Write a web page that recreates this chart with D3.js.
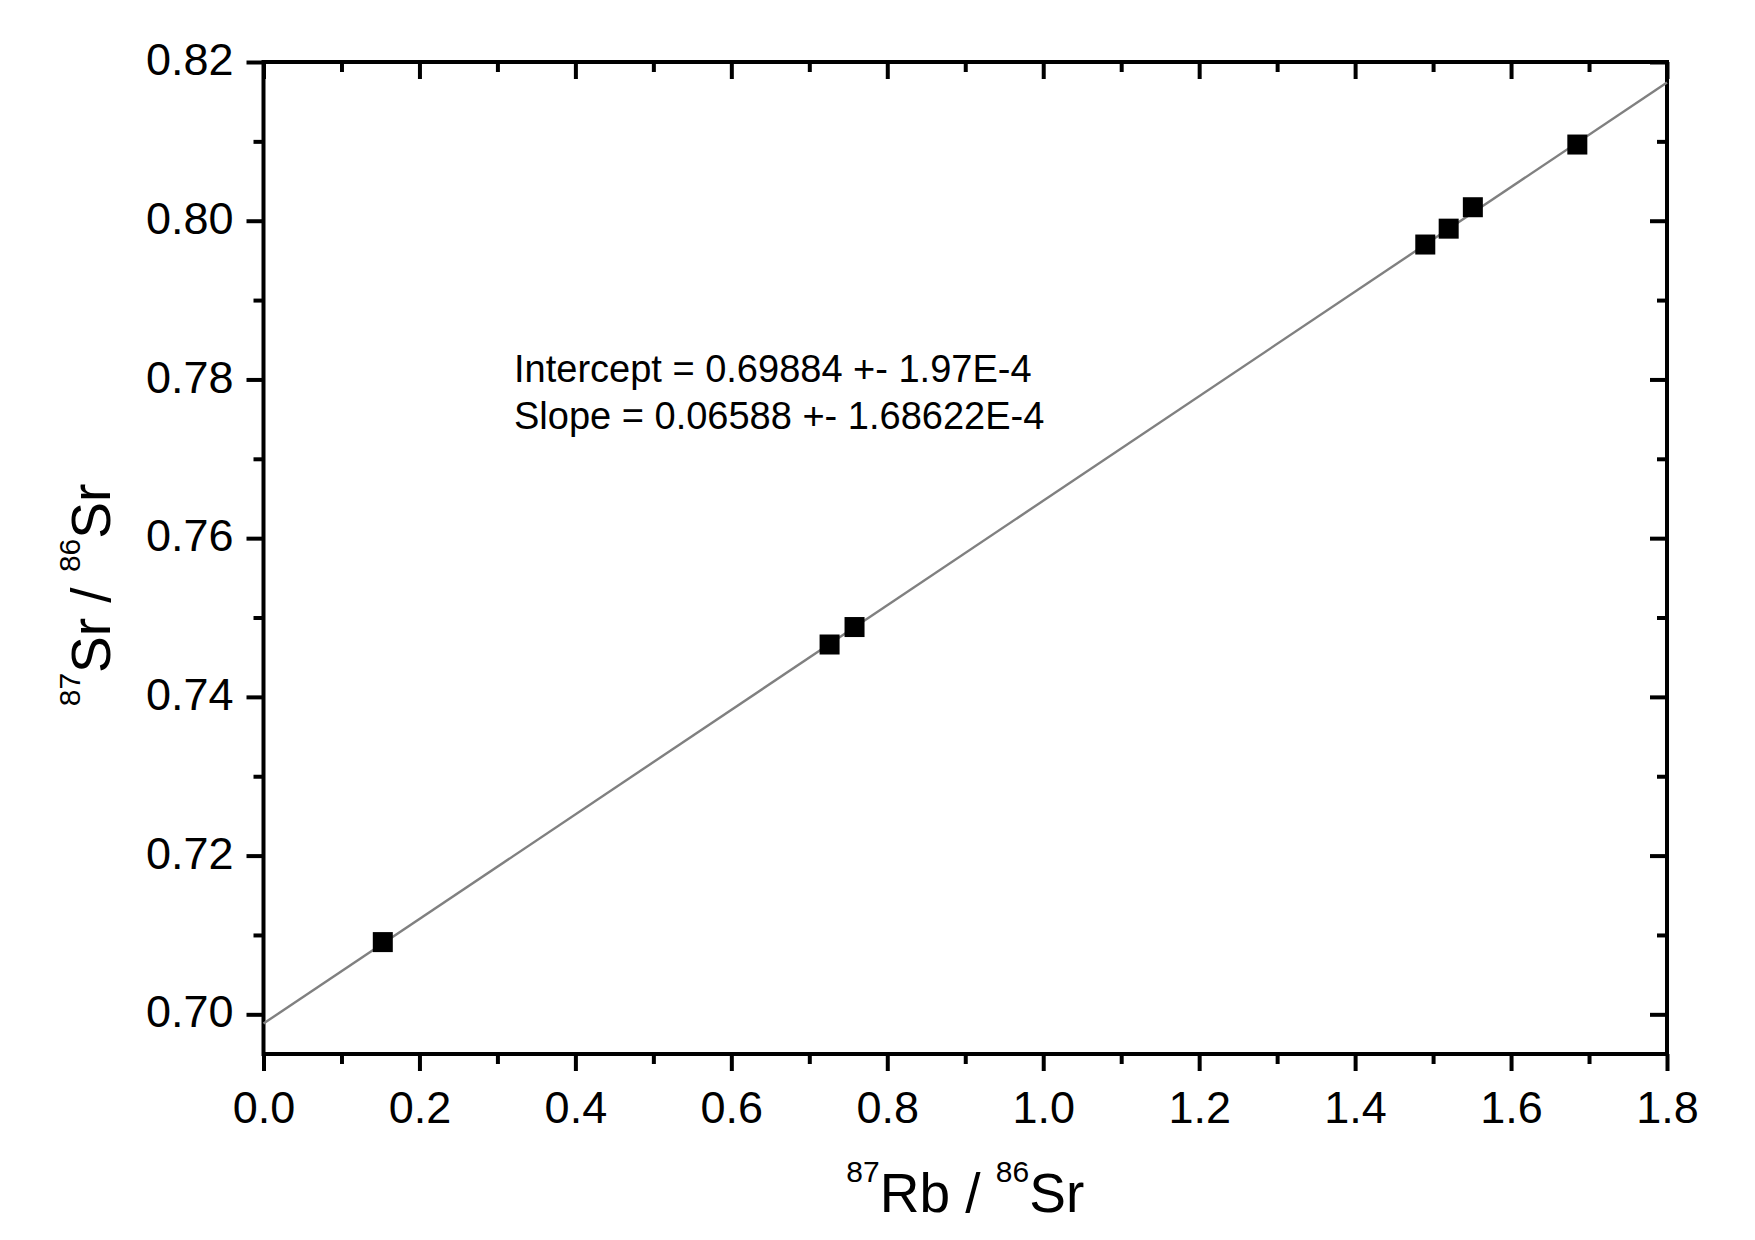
<!DOCTYPE html>
<html><head><meta charset="utf-8">
<script src="https://cdn.jsdelivr.net/npm/d3@7"></script>
<style>
html,body{margin:0;padding:0;background:#fff;}
text{font-family:"Liberation Sans",Arial,sans-serif;fill:#000;}
</style></head>
<body>
<svg id="chart" width="1755" height="1240"></svg>
<script>
// ---- data ----
const rbSr = [0.153, 0.726, 0.758, 1.490, 1.520, 1.551, 1.685];
const srSr = [0.7091, 0.7466, 0.7488, 0.7970, 0.7990, 0.8017, 0.8096];
const fitX = [0, 1.8];
const fitY = [0.69884, 0.81742];
const xMajor = [0, 0.2, 0.4, 0.6, 0.8, 1.0, 1.2, 1.4, 1.6, 1.8];
const xMinor = [0.1, 0.3, 0.5, 0.7, 0.9, 1.1, 1.3, 1.5, 1.7];
const xLabels = ["0.0","0.2","0.4","0.6","0.8","1.0","1.2","1.4","1.6","1.8"];
const yMajor = [0.70, 0.72, 0.74, 0.76, 0.78, 0.80, 0.82];
const yMinor = [0.71, 0.73, 0.75, 0.77, 0.79, 0.81];
const yLabels = ["0.70","0.72","0.74","0.76","0.78","0.80","0.82"];
const annotation = ["Intercept = 0.69884 +- 1.97E-4", "Slope = 0.06588 +- 1.68622E-4"];

// ---- layout ----
const L = 263.5, R = 1667, T = 62, B = 1054;
const svg = d3.select("#chart");
const x = d3.scaleLinear().domain([0, 1.8]).range([L, R]);
const y = d3.scaleLinear().domain([0.695, 0.82]).range([B, T]);

const MAJ = 17, MIN = 10, SW = 4;

function styleAxis(g){
  g.select(".domain").remove();
  g.selectAll(".tick line").attr("stroke","#000").attr("stroke-width",SW);
}

// bottom axis (outward)
const gB = svg.append("g").attr("transform",`translate(0,${B})`);
gB.call(d3.axisBottom(x).tickValues(xMajor).tickSize(MAJ).tickFormat((d,i)=>xLabels[i]).tickPadding(20));
styleAxis(gB);
gB.selectAll(".tick text").attr("font-size",45).attr("dy","0.71em");
const gBm = svg.append("g").attr("transform",`translate(0,${B})`);
gBm.call(d3.axisBottom(x).tickValues(xMinor).tickSize(MIN).tickFormat(""));
styleAxis(gBm);

// top axis (inward)
const gT = svg.append("g").attr("transform",`translate(0,${T})`);
gT.call(d3.axisBottom(x).tickValues(xMajor).tickSize(MAJ).tickFormat(""));
styleAxis(gT);
const gTm = svg.append("g").attr("transform",`translate(0,${T})`);
gTm.call(d3.axisBottom(x).tickValues(xMinor).tickSize(MIN).tickFormat(""));
styleAxis(gTm);

// left axis (outward)
const gL = svg.append("g").attr("transform",`translate(${L},0)`);
gL.call(d3.axisLeft(y).tickValues(yMajor).tickSize(MAJ).tickFormat((d,i)=>yLabels[i]).tickPadding(13));
styleAxis(gL);
gL.selectAll(".tick text").attr("font-size",45).attr("dy","0.28em");
const gLm = svg.append("g").attr("transform",`translate(${L},0)`);
gLm.call(d3.axisLeft(y).tickValues(yMinor).tickSize(MIN).tickFormat(""));
styleAxis(gLm);

// right axis (inward)
const gR = svg.append("g").attr("transform",`translate(${R},0)`);
gR.call(d3.axisLeft(y).tickValues(yMajor).tickSize(MAJ).tickFormat(""));
styleAxis(gR);
const gRm = svg.append("g").attr("transform",`translate(${R},0)`);
gRm.call(d3.axisLeft(y).tickValues(yMinor).tickSize(MIN).tickFormat(""));
styleAxis(gRm);

// frame
svg.append("rect").attr("x",L).attr("y",T).attr("width",R-L).attr("height",B-T)
  .attr("fill","none").attr("stroke","#000").attr("stroke-width",SW);

// fit line
svg.append("path")
  .datum(fitX.map((v,i)=>[v,fitY[i]]))
  .attr("d", d3.line().x(d=>x(d[0])).y(d=>y(d[1])))
  .attr("stroke","#808080").attr("stroke-width",2.4).attr("fill","none");

// points
const S = 20;
svg.append("g").selectAll("rect").data(rbSr.map((v,i)=>[v,srSr[i]])).join("rect")
  .attr("x",d=>x(d[0])-S/2).attr("y",d=>y(d[1])-S/2)
  .attr("width",S).attr("height",S).attr("fill","#000");

// annotation
svg.append("g").selectAll("text").data(annotation).join("text")
  .attr("x",514).attr("y",(d,i)=>381.5+i*47).attr("font-size",38).text(d=>d);

// x title
const xt = svg.append("text").attr("x",(L+R)/2).attr("y",1212).attr("text-anchor","middle").attr("font-size",55);
xt.append("tspan").attr("font-size",30).attr("dy",-30).text("87");
xt.append("tspan").attr("dy",30).text("Rb / ");
xt.append("tspan").attr("font-size",30).attr("dy",-30).text("86");
xt.append("tspan").attr("dy",30).text("Sr");

// y title
const yt = svg.append("text").attr("transform","translate(110,595) rotate(-90)").attr("text-anchor","middle").attr("font-size",55);
yt.append("tspan").attr("font-size",30).attr("dy",-30).text("87");
yt.append("tspan").attr("dy",30).text("Sr / ");
yt.append("tspan").attr("font-size",30).attr("dy",-30).text("86");
yt.append("tspan").attr("dy",30).text("Sr");
</script>
</body></html>
